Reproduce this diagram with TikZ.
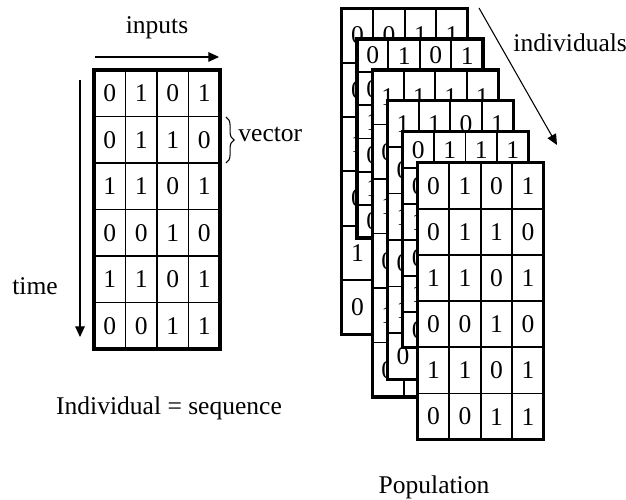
\documentclass[tikz,border=0pt]{standalone}
\usepackage{fontspec}
\setmainfont{Liberation Serif}
\usetikzlibrary{arrows.meta,decorations.pathreplacing}

\tikzset{
  grid outer/.style={line width=1.5pt},
  grid inner/.style={line width=0.9pt},
  digit/.style={inner sep=0pt},
  caption/.style={inner sep=0pt},
  axis/.style={-{Triangle[length=5pt,width=4.5pt]}, line width=0.5pt},
}

% #1 name, #2 x, #3 y, #4 height, #5 first row, #6 columns shown below row 1
\newcommand{\bitsheet}[6]{%
  \fill[white] (#2,#3) rectangle ++(126,#4);
  \foreach \c in {1,2,3} \draw[grid inner] ({#2+31.5*\c},#3) -- ++(0,#4);
  \foreach \r in {1,...,5} \draw[grid inner] (#2,{#3+#4/6*\r}) -- ++(126,0);
  \draw[grid outer] (#2,#3) rectangle ++(126,#4);
  \foreach \row [count=\r] in {{#5},{0,1,1,0},{1,1,0,1},{0,0,1,0},{1,1,0,1},{0,0,1,1}}
    \foreach \v [count=\c] in \row {
      \pgfmathtruncatemacro\shown{(\r==1)||(\c<=#6)}
      \ifnum\shown=1
        \node[digit] (#1-\r-\c) at ({#2+31.5*(\c-0.5)},{#3+#4/6*(\r-0.5)}) {\v};
      \fi
    }
}

\begin{document}
\begin{tikzpicture}[x=0.47pt,y=-0.47pt,font=\fontsize{12}{14}\selectfont]
  \useasboundingbox (0,0) rectangle (626,500);

  % one individual
  \bitsheet{seq}{94}{70}{279}{0,1,0,1}{4}
  \node[caption] (inputs) at (157,28) {inputs};
  \node[caption] (time) at (35,286) {time};
  \node[caption,anchor=west] (vector) at (238,134) {vector};
  \node[caption] (indiv) at (169,408) {Individual = sequence};
  \coordinate (in-a) at (95,57);
  \coordinate (in-b) at (219,57);
  \coordinate (t-a) at (80,80);
  \coordinate (t-b) at (80,337);
  \coordinate (v-a) at (226,117);
  \coordinate (v-b) at (226,163);
  \draw[axis] (in-a) -- (in-b);
  \draw[axis] (t-a) -- (t-b);
  \draw[line width=0.5pt,decorate,decoration={brace,amplitude=3.8pt}] (v-a) -- (v-b);

  % population
  \bitsheet{p1}{341.7}{8.3}{326}{0,0,1,1}{1}
  \bitsheet{p2}{356.9}{39}{199}{0,1,0,1}{1}
  \bitsheet{p3}{372.1}{70}{327}{1,1,1,1}{1}
  \bitsheet{p4}{387.3}{100.5}{279}{1,1,0,1}{1}
  \bitsheet{p5}{402.5}{131.7}{216}{0,1,1,1}{1}
  \bitsheet{p6}{417.7}{162.7}{277}{0,1,0,1}{4}
  \node[caption,anchor=west] (individuals) at (513,43) {individuals};
  \node[caption] (population) at (434,487) {Population};
  \coordinate (ind-a) at (479,8);
  \coordinate (ind-b) at (557,145);
  \draw[axis] (ind-a) -- (ind-b);
\end{tikzpicture}
\end{document}
